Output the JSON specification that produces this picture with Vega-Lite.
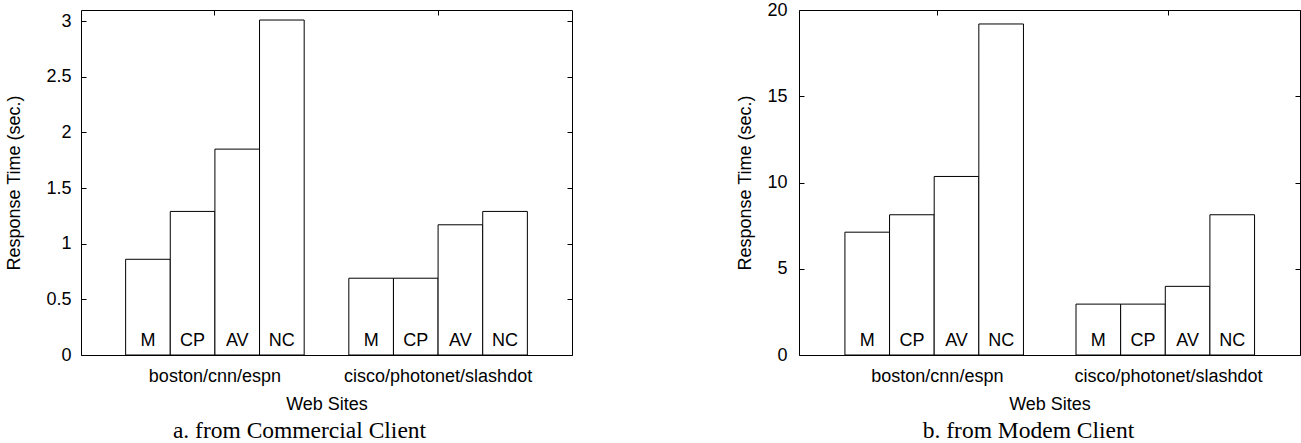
{
  "$schema": "https://vega.github.io/schema/vega-lite/v6.json",
  "background": "white",
  "padding": {"left": 5, "top": 0, "right": 0, "bottom": 0},
  "spacing": 163,
  "config": {
    "view": {"stroke": "black", "strokeWidth": 1},
    "font": "Liberation Sans",
    "axis": {
      "labelFont": "Liberation Sans",
      "titleFont": "Liberation Sans",
      "labelFontSize": 18,
      "titleFontSize": 18,
      "titleFontWeight": "normal",
      "labelColor": "black",
      "titleColor": "black",
      "tickColor": "black",
      "labelLimit": 400,
      "grid": false,
      "domain": false
    }
  },
  "datasets": {
    "commercial": [
      {"site": "boston/cnn/espn", "method": "M", "time": 0.86},
      {"site": "boston/cnn/espn", "method": "CP", "time": 1.29},
      {"site": "boston/cnn/espn", "method": "AV", "time": 1.85},
      {"site": "boston/cnn/espn", "method": "NC", "time": 3.01},
      {"site": "cisco/photonet/slashdot", "method": "M", "time": 0.69},
      {"site": "cisco/photonet/slashdot", "method": "CP", "time": 0.69},
      {"site": "cisco/photonet/slashdot", "method": "AV", "time": 1.17},
      {"site": "cisco/photonet/slashdot", "method": "NC", "time": 1.29}
    ],
    "modem": [
      {"site": "boston/cnn/espn", "method": "M", "time": 7.12},
      {"site": "boston/cnn/espn", "method": "CP", "time": 8.13},
      {"site": "boston/cnn/espn", "method": "AV", "time": 10.35},
      {"site": "boston/cnn/espn", "method": "NC", "time": 19.19},
      {"site": "cisco/photonet/slashdot", "method": "M", "time": 2.95},
      {"site": "cisco/photonet/slashdot", "method": "CP", "time": 2.95},
      {"site": "cisco/photonet/slashdot", "method": "AV", "time": 3.98},
      {"site": "cisco/photonet/slashdot", "method": "NC", "time": 8.13}
    ]
  },
  "hconcat": [
    {
      "width": 491,
      "height": 345,
      "data": {"name": "commercial"},
      "title": {"text": "a. from Commercial Client", "orient": "bottom", "anchor": "middle", "font": "Liberation Serif", "fontSize": 23.5, "fontWeight": "normal", "color": "black", "dx": -27, "offset": 6},
      "encoding": {
        "xOffset": {"field": "method", "type": "nominal", "sort": ["M", "CP", "AV", "NC"],
                    "scale": {"paddingInner": 0, "paddingOuter": 0}}
      },
      "resolve": {"axis": {"x": "independent", "y": "independent"}},
      "layer": [
        {
          "mark": {"type": "bar", "fill": "white", "stroke": "black", "strokeWidth": 1},
          "encoding": {
            "x": {"field": "site", "type": "nominal", "sort": ["boston/cnn/espn", "cisco/photonet/slashdot"],
                  "scale": {"paddingInner": 0.2, "paddingOuter": 0.2},
                  "axis": {"orient": "bottom", "title": "Web Sites", "labelAngle": 0, "tickSize": -5, "labelPadding": 17, "titlePadding": 10}},
            "y": {"field": "time", "type": "quantitative", "scale": {"domain": [0, 3.1], "nice": false, "zero": true},
                  "axis": {"orient": "left", "values": [0, 0.5, 1, 1.5, 2, 2.5, 3], "format": "~g", "tickSize": -5, "labelPadding": 15, "title": "Response Time (sec.)", "titlePadding": 22}}
          }
        },
        {
          "mark": {"type": "text", "baseline": "alphabetic", "dy": -9, "fontSize": 18, "font": "Liberation Sans", "color": "black"},
          "encoding": {
            "x": {"field": "site", "type": "nominal", "sort": ["boston/cnn/espn", "cisco/photonet/slashdot"], "axis": null},
            "y": {"datum": 0, "type": "quantitative", "axis": null},
            "text": {"field": "method", "type": "nominal"}
          }
        },
        {
          "mark": {"type": "bar", "opacity": 0},
          "encoding": {
            "x": {"field": "site", "type": "nominal", "sort": ["boston/cnn/espn", "cisco/photonet/slashdot"],
                  "axis": {"orient": "top", "title": null, "labels": false, "tickSize": -5}},
            "y": {"field": "time", "type": "quantitative",
                  "axis": {"orient": "right", "values": [0, 0.5, 1, 1.5, 2, 2.5, 3], "title": null, "labels": false, "tickSize": -5}}
          }
        }
      ]
    },
    {
      "width": 501,
      "height": 345,
      "data": {"name": "modem"},
      "title": {"text": "b. from Modem Client", "orient": "bottom", "anchor": "middle", "font": "Liberation Serif", "fontSize": 23.5, "fontWeight": "normal", "color": "black", "dx": -21, "offset": 6},
      "encoding": {
        "xOffset": {"field": "method", "type": "nominal", "sort": ["M", "CP", "AV", "NC"],
                    "scale": {"paddingInner": 0, "paddingOuter": 0}}
      },
      "resolve": {"axis": {"x": "independent", "y": "independent"}},
      "layer": [
        {
          "mark": {"type": "bar", "fill": "white", "stroke": "black", "strokeWidth": 1},
          "encoding": {
            "x": {"field": "site", "type": "nominal", "sort": ["boston/cnn/espn", "cisco/photonet/slashdot"],
                  "scale": {"paddingInner": 0.2, "paddingOuter": 0.184, "align": 0.54},
                  "axis": {"orient": "bottom", "title": "Web Sites", "labelAngle": 0, "tickSize": -5, "labelPadding": 17, "titlePadding": 10}},
            "y": {"field": "time", "type": "quantitative", "scale": {"domain": [0, 20], "nice": false, "zero": true},
                  "axis": {"orient": "left", "values": [0, 5, 10, 15, 20], "format": "~g", "tickSize": -5, "labelPadding": 17, "title": "Response Time (sec.)", "titlePadding": 12}}
          }
        },
        {
          "mark": {"type": "text", "baseline": "alphabetic", "dy": -9, "fontSize": 18, "font": "Liberation Sans", "color": "black"},
          "encoding": {
            "x": {"field": "site", "type": "nominal", "sort": ["boston/cnn/espn", "cisco/photonet/slashdot"], "axis": null},
            "y": {"datum": 0, "type": "quantitative", "axis": null},
            "text": {"field": "method", "type": "nominal"}
          }
        },
        {
          "mark": {"type": "bar", "opacity": 0},
          "encoding": {
            "x": {"field": "site", "type": "nominal", "sort": ["boston/cnn/espn", "cisco/photonet/slashdot"],
                  "axis": {"orient": "top", "title": null, "labels": false, "tickSize": -5}},
            "y": {"field": "time", "type": "quantitative",
                  "axis": {"orient": "right", "values": [0, 5, 10, 15, 20], "title": null, "labels": false, "tickSize": -5}}
          }
        }
      ]
    }
  ]
}
